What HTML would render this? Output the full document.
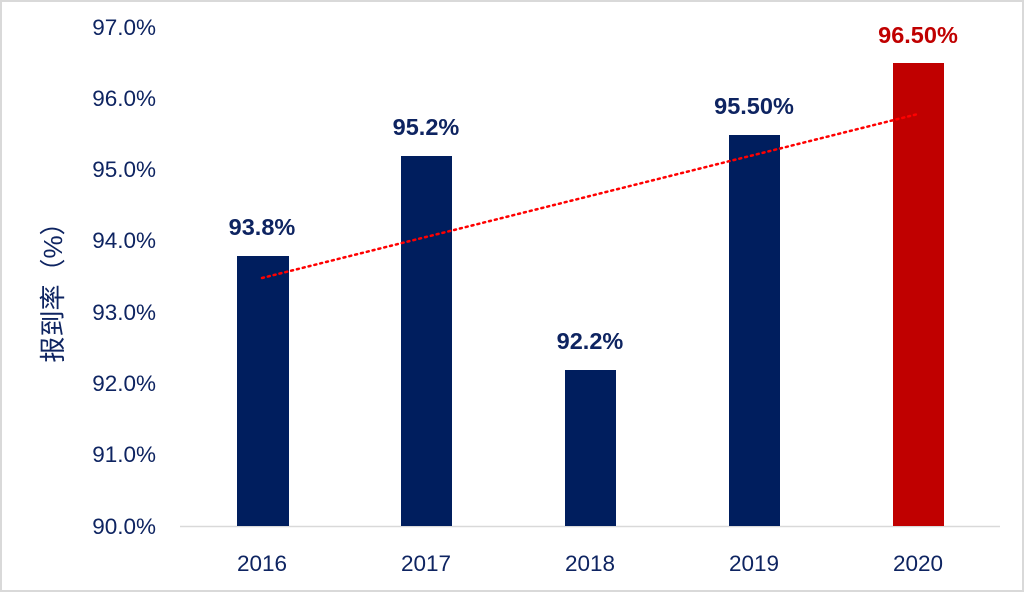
<!DOCTYPE html>
<html><head><meta charset="utf-8"><style>
html,body{margin:0;padding:0;background:#fff}
svg{display:block}
text{font-family:"Liberation Sans","Noto Sans CJK SC",sans-serif;fill:#0e2461}
</style></head><body>
<svg width="1024" height="592" viewBox="0 0 1024 592">
<rect x="1" y="1" width="1022" height="590" fill="#fff" stroke="#d9d9d9" stroke-width="2"/>
<g font-size="22.5" text-anchor="end">
<text x="156" y="35">97.0%</text>
<text x="156" y="106">96.0%</text>
<text x="156" y="177">95.0%</text>
<text x="156" y="248">94.0%</text>
<text x="156" y="320">93.0%</text>
<text x="156" y="391">92.0%</text>
<text x="156" y="462">91.0%</text>
<text x="156" y="534">90.0%</text>
</g>
<text transform="translate(62,286) rotate(-90)" font-size="26" text-anchor="middle">报到率（%）</text>
<line x1="180" y1="526.5" x2="1000" y2="526.5" stroke="#d9d9d9" stroke-width="1.5"/>
<rect x="237" y="256" width="52" height="270" fill="#001e5e"/>
<rect x="401" y="156" width="51" height="370" fill="#001e5e"/>
<rect x="565" y="370" width="51" height="156" fill="#001e5e"/>
<rect x="729" y="135" width="51" height="391" fill="#001e5e"/>
<rect x="893" y="63" width="51" height="463" fill="#c00000"/>
<line x1="262" y1="278" x2="918" y2="114" stroke="#ff0000" stroke-width="2.5" stroke-dasharray="2 4" stroke-linecap="round"/>
<g font-size="23.5" font-weight="bold" text-anchor="middle">
<text x="262" y="235">93.8%</text>
<text x="426" y="135">95.2%</text>
<text x="590" y="349">92.2%</text>
<text x="754" y="114">95.50%</text>
<text x="918" y="43" style="fill:#c00000">96.50%</text>
</g>
<g font-size="22.5" text-anchor="middle">
<text x="262" y="571">2016</text>
<text x="426" y="571">2017</text>
<text x="590" y="571">2018</text>
<text x="754" y="571">2019</text>
<text x="918" y="571">2020</text>
</g>
</svg>
</body></html>
